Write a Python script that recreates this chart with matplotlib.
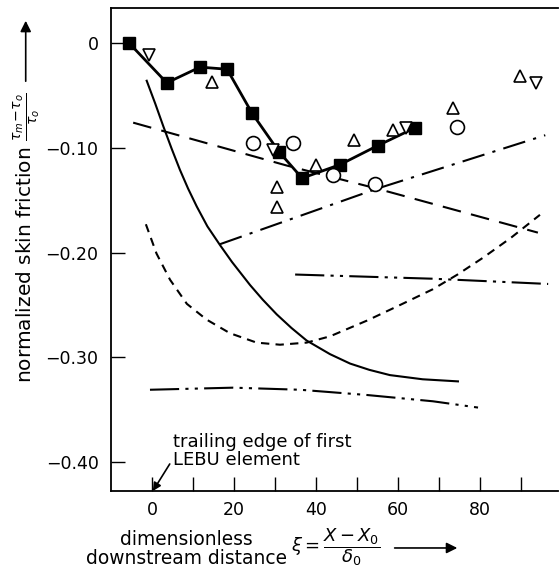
import matplotlib
matplotlib.use('Agg')
import matplotlib.pyplot as plt
from matplotlib.patches import FancyArrowPatch

plt.rcParams['font.family'] = ['DejaVu Sans']
plt.rcParams['mathtext.fontset'] = 'dejavusans'

# measured points
sq_x = [-5.6, 3.6, 11.7, 18.3, 24.4, 31.0, 36.6, 45.9, 55.0, 64.1]
sq_y = [0.0, -0.038, -0.023, -0.025, -0.067, -0.104, -0.129, -0.116, -0.098, -0.081]

up_x = [14.7, 30.4, 30.4, 40.0, 49.3, 58.7, 73.4, 89.8]
up_y = [-0.037, -0.137, -0.157, -0.116, -0.093, -0.083, -0.062, -0.031]

down_x = [-0.7, 29.5, 62.0, 93.7]
down_y = [-0.011, -0.102, -0.081, -0.038]

circ_x = [24.7, 34.3, 44.2, 54.4, 74.4]
circ_y = [-0.095, -0.095, -0.126, -0.135, -0.080]

# theory curves
solid_x = [-1.3, 0.8, 2.8, 4.8, 6.8, 8.8, 10.9, 13.5, 16.6, 19.5, 23.9, 27.0, 30.4, 34.0,
           37.7, 43.4, 48.3, 53.0, 58.0, 66.0, 74.6]
solid_y = [-0.036, -0.058, -0.080, -0.101, -0.121, -0.139, -0.156, -0.175, -0.193, -0.209,
           -0.231, -0.245, -0.259, -0.272, -0.284, -0.297, -0.306, -0.312, -0.317, -0.321, -0.323]

longdash_x = [-4.6, 32.9, 54.9, 94.1]
longdash_y = [-0.076, -0.117, -0.139, -0.181]

dashdot_x = [16.6, 54.9, 95.9]
dashdot_y = [-0.192, -0.139, -0.088]

shortdash_x = [-1.5, 1.1, 4.4, 8.5, 13.3, 19.0, 25.5, 31.2, 37.7, 43.4, 52.4, 60.0, 68.5,
               74.5, 80.7, 87.5, 94.6]
shortdash_y = [-0.173, -0.201, -0.226, -0.249, -0.264, -0.277, -0.286, -0.288, -0.286, -0.280,
               -0.265, -0.251, -0.235, -0.221, -0.205, -0.186, -0.164]

dd_upper_x = [34.9, 68.5, 96.6]
dd_upper_y = [-0.221, -0.225, -0.230]

dd_lower_x = [-0.5, 19.8, 36.1, 52.4, 68.5, 79.5]
dd_lower_y = [-0.331, -0.329, -0.331, -0.336, -0.342, -0.348]

fig = plt.figure(figsize=(5.59, 5.75), dpi=100)
ax = fig.add_axes([0.1986, 0.146, 0.7996, 0.840])

lw = 1.5
ax.plot(solid_x, solid_y, color='black', lw=lw)
ax.plot(longdash_x, longdash_y, color='black', lw=lw, dashes=(9, 5))
ax.plot(dashdot_x, dashdot_y, color='black', lw=lw, dashes=(11, 4, 1.5, 4))
ax.plot(shortdash_x, shortdash_y, color='black', lw=lw, dashes=(4, 3))
ax.plot(dd_upper_x, dd_upper_y, color='black', lw=lw, dashes=(14, 3, 1.5, 3, 1.5, 3))
ax.plot(dd_lower_x, dd_lower_y, color='black', lw=lw, dashes=(14, 3, 1.5, 3, 1.5, 3))

ax.plot(sq_x, sq_y, color='black', lw=2, marker='s', ms=8, mfc='black', zorder=5)
ax.plot(up_x, up_y, ls='none', marker='^', ms=9, mfc='white', mec='black', mew=1.2, zorder=6)
ax.plot(down_x, down_y, ls='none', marker='v', ms=9, mfc='white', mec='black', mew=1.2, zorder=6)
ax.plot(circ_x, circ_y, ls='none', marker='o', ms=10, mfc='white', mec='black', mew=1.2, zorder=6)

ax.set_xlim(-10, 99)
ax.set_ylim(-0.4277, 0.0334)
ax.spines['right'].set_visible(False)
for s in ['left', 'bottom', 'top']:
    ax.spines[s].set_linewidth(1.3)

ax.set_xticks([0, 10, 20, 30, 40, 50, 60, 70, 80, 90])
ax.set_xticklabels(['0', '', '20', '', '40', '', '60', '', '80', ''])
ax.set_yticks([0, -0.1, -0.2, -0.3, -0.4])
ax.set_yticklabels(['0', '\u22120.10', '\u22120.20', '\u22120.30', '\u22120.40'])
ax.tick_params(direction='in', length=10, width=1.0, labelsize=12.5, pad=7)
ax.tick_params(axis='y', pad=9)

# y label with arrow
fig.text(0.048, 1 - 383 / 575, r'normalized skin friction $\frac{\tau_m\!-\!\tau_o}{\tau_o}$',
         rotation=90, ha='center', va='bottom', fontsize=14.5)
fig.add_artist(FancyArrowPatch((0.046, 1 - 84 / 575), (0.046, 1 - 18 / 575),
                               transform=fig.transFigure, arrowstyle='-|>',
                               mutation_scale=16, color='black', lw=1.2))

# x label with arrow
fig.text(0.333, 0.045, 'dimensionless\ndownstream distance', ha='center', va='center',
         fontsize=13.4, linespacing=1.0)
fig.text(0.6, 0.048, r'$\xi = \dfrac{X - X_0}{\delta_0}$', ha='center', va='center', fontsize=13)
fig.add_artist(FancyArrowPatch((0.701, 0.047), (0.823, 0.047), transform=fig.transFigure,
                               arrowstyle='-|>', mutation_scale=16, color='black', lw=1.2))

# annotation
ax.annotate('trailing edge of first\nLEBU element', xy=(0.2, -0.4277), xytext=(5.0, -0.389),
            fontsize=13, ha='left', va='center', linespacing=1.0,
            arrowprops=dict(arrowstyle='-|>', color='black', lw=1.2, mutation_scale=12,
                            shrinkA=0, shrinkB=0, relpos=(0, 0.25)))

fig.savefig('out.png', dpi=100)
